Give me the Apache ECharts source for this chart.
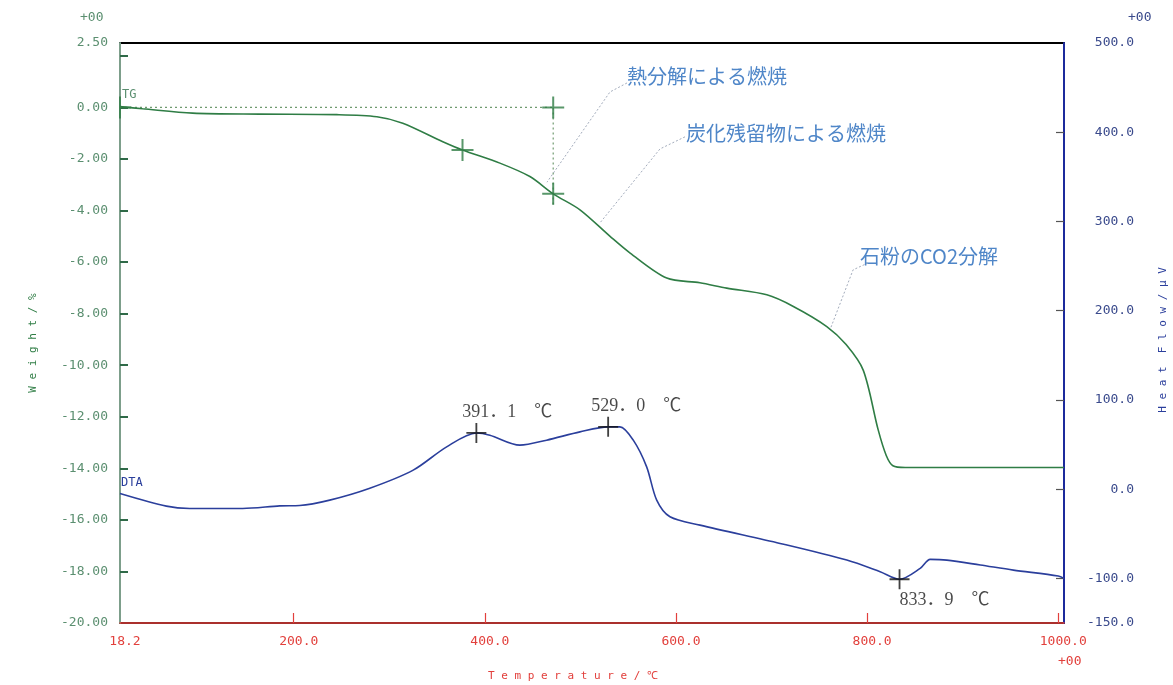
<!DOCTYPE html>
<html>
<head>
<meta charset="utf-8">
<script src="https://cdn.jsdelivr.net/npm/echarts@6/dist/echarts.min.js"></script>
<style>
  html, body { margin: 0; padding: 0; background: #fff; }
  #chart { width: 1173px; height: 685px; }
</style>
</head>
<body>
<div id="chart"></div>
<script>
// Temperature axis (°C)
const tempTicks = [200, 400, 600, 800, 1000];
const tempLabels = [18.2, 200, 400, 600, 800, 1000];

// Weight axis (%)
const weightLabels = [-20, -18, -16, -14, -12, -10, -8, -6, -4, -2, 0, 2.5];
const weightTicks = [-18, -16, -14, -12, -10, -8, -6, -4, -2, 0, 2];

// Heat flow axis (µV)
const heatLabels = [-150, -100, 0, 100, 200, 300, 400, 500];
const heatTicks = [-100, 0, 100, 200, 300, 400];

// TG curve
const tgTemp = [18.2, 41.8, 94.2, 164.4, 245.0, 287.0, 314.1, 356.0, 376.6, 415.7, 447.1, 471.5, 499.5, 531.0, 552.0, 590.3, 625.0, 653.1, 695.0, 722.8, 757.8, 778.0, 796.0, 811.5, 820.0, 827.0, 840.0, 1006.0];
const tgWeight = [0.03, -0.05, -0.22, -0.26, -0.28, -0.36, -0.61, -1.33, -1.65, -2.16, -2.68, -3.35, -3.97, -5.0, -5.65, -6.62, -6.8, -7.01, -7.27, -7.72, -8.5, -9.2, -10.2, -12.5, -13.5, -13.9, -13.97, -13.97];

// DTA curve
const dtaTemp = [18.2, 66.7, 91.1, 146.6, 185.3, 206.2, 237.7, 279.6, 325.0, 360.0, 391.1, 405.2, 436.6, 464.6, 499.5, 529.0, 541.3, 555.3, 569.3, 579.8, 593.7, 625.1, 708.9, 778.7, 813.6, 833.9, 855.5, 866.0, 883.4, 918.4, 953.0, 1000.0, 1006.0];
const dtaHeat = [-4.8, -19.0, -21.6, -21.6, -18.7, -18.3, -12.3, 1.0, 21.3, 47.4, 63.0, 60.5, 49.3, 54.9, 64.2, 69.8, 69.8, 54.9, 25.0, -12.3, -31.0, -40.3, -60.8, -79.5, -92.6, -101.0, -88.8, -78.7, -79.5, -85.0, -90.7, -97.4, -100.0];

// Step analysis points on TG
const tgStepTemp = [376.6, 471.5, 471.5];
const tgStepWeight = [-1.65, -3.35, 0.0];
const tgGuideH = [[18.2, 0.0], [471.5, 0.0]];
const tgGuideV = [[471.5, 0.0], [471.5, -3.8]];

// DTA peak points
const peakTemp = [391.1, 529.0, 833.9];
const peakHeat = [63.0, 69.8, -101.0];

// Annotations (leader polyline in temperature / weight units)
const noteTexts = ['熱分解による燃焼', '炭化残留物による燃焼', '石粉のCO2分解'];
const noteLeaders = [
  [[548.7, 0.95], [530.9, 0.6], [465.0, -2.9]],
  [[609.4, -1.14], [583.2, -1.61], [520.4, -4.48]],
  [[801.0, -6.03], [785.3, -6.3], [761.2, -8.62]]
];

const GREEN = '#2f7d45';
const GREEN_TXT = '#5b8f70';
const BLUE = '#2b3f9c';
const RED = '#e2403c';
const NOTE = '#4f86c8';
const MONO = '"DejaVu Sans Mono", "Liberation Mono", monospace';
const SERIF = '"Liberation Serif", "Noto Sans CJK JP", serif';

const zip = (a, b) => a.map((v, i) => [v, b[i]]);
const cross = 'path://M-1,-11H1V11H-1Z M-11,-1H11V1H-11Z';
const halfCross = 'path://M-1,-11H1V11H-1Z M-1,-1H11V1H-1Z';

const peakLabelPos = [[-4, -11], [-7, -11], [10, 31]];

const chart = echarts.init(document.getElementById('chart'), null, { renderer: 'canvas' });

const series = [
  {
    name: 'TG', type: 'line', xAxisIndex: 0, yAxisIndex: 0,
    data: zip(tgTemp, tgWeight), showSymbol: false, smooth: 0.3,
    lineStyle: { color: GREEN, width: 1.6 }, z: 5, silent: true
  },
  {
    name: 'DTA', type: 'line', xAxisIndex: 0, yAxisIndex: 1,
    data: zip(dtaTemp, dtaHeat), showSymbol: false, smooth: 0.3,
    lineStyle: { color: BLUE, width: 1.6 }, z: 5, silent: true
  },
  {
    type: 'line', yAxisIndex: 0, data: tgGuideH, showSymbol: false, silent: true,
    lineStyle: { color: '#6f9a6f', width: 1.2, type: [2, 3] }
  },
  {
    type: 'line', yAxisIndex: 0, data: tgGuideV, showSymbol: false, silent: true,
    lineStyle: { color: '#6f9a6f', width: 1.2, type: [2, 3] }
  },
  {
    type: 'scatter', yAxisIndex: 0, symbol: cross, symbolSize: 22, silent: true,
    data: zip(tgStepTemp, tgStepWeight), itemStyle: { color: GREEN }, z: 6
  },
  {
    type: 'scatter', yAxisIndex: 0, symbol: halfCross, symbolSize: [12, 22], symbolOffset: [5, 0], silent: true,
    data: [[tgTemp[0], 0]], itemStyle: { color: GREEN }, z: 6, clip: false
  },
  {
    type: 'scatter', yAxisIndex: 1, symbol: cross, symbolSize: 20, silent: true, z: 7,
    itemStyle: { color: '#111' },
    data: peakTemp.map((t, i) => ({
      value: [t, peakHeat[i]],
      label: {
        show: true, position: peakLabelPos[i], align: 'left', verticalAlign: 'middle',
        formatter: (p) => p.value[0].toFixed(1).replace('.', '．') + '　℃',
        fontFamily: SERIF, fontSize: 18, color: '#1a1a1a'
      }
    }))
  }
];

noteLeaders.forEach((pts) => {
  series.push({
    type: 'line', yAxisIndex: 0, data: pts, showSymbol: false, silent: true,
    lineStyle: { color: '#a3acbc', width: 1, type: [2, 2] }, z: 3
  });
});

const notePos = [[627, 77], [686, 134], [860, 257]];

chart.setOption({
  animation: false,
  backgroundColor: '#fff',
  grid: { left: 120, right: 109, top: 43, bottom: 62, show: true, borderColor: '#000', borderWidth: 2, backgroundColor: 'transparent' },
  xAxis: {
    type: 'value', min: 18.2, max: 1006,
    axisLine: { onZero: false, lineStyle: { color: RED, width: 1.5 } },
    axisTick: { inside: true, length: 10, customValues: tempTicks, lineStyle: { color: RED, width: 1.2 } },
    axisLabel: {
      customValues: tempLabels, formatter: (v) => v.toFixed(1), color: RED,
      fontFamily: MONO, fontSize: 13, margin: 12, padding: [0, 0, 0, 10]
    },
    splitLine: { show: false }
  },
  yAxis: [
    {
      type: 'value', min: -20, max: 2.5, position: 'left',
      axisLine: { show: true, onZero: false, lineStyle: { color: '#7d9e8b', width: 2 } },
      axisTick: { show: true, inside: true, length: 8, customValues: weightTicks, lineStyle: { color: '#2f6a48', width: 2 } },
      axisLabel: {
        customValues: weightLabels, formatter: (v) => v.toFixed(2), color: GREEN_TXT,
        fontFamily: MONO, fontSize: 13, margin: 12
      },
      splitLine: { show: false }
    },
    {
      type: 'value', min: -150, max: 500, position: 'right',
      axisLine: { show: true, onZero: false, lineStyle: { color: '#1c2a9c', width: 2 } },
      axisTick: { show: true, inside: true, length: 8, customValues: heatTicks, lineStyle: { color: '#555', width: 1.2 } },
      axisLabel: {
        customValues: heatLabels, formatter: (v) => v.toFixed(1), color: '#3a4a8c',
        fontFamily: MONO, fontSize: 13, margin: 70, align: 'right'
      },
      splitLine: { show: false }
    }
  ],
  series: series,
  graphic: [
    ...noteTexts.map((t, i) => ({
      type: 'text', left: notePos[i][0], top: notePos[i][1] - 11, silent: true,
      style: { text: t, fill: NOTE, font: '20px "Noto Sans CJK JP"' }
    })),
    { type: 'text', x: 122, y: 89, silent: true, style: { text: 'TG', fill: GREEN_TXT, font: '12px ' + MONO } },
    { type: 'text', x: 121, y: 477, silent: true, style: { text: 'DTA', fill: BLUE, font: '12px ' + MONO } },
    { type: 'text', x: 80, y: 11, silent: true, style: { text: '+00', fill: GREEN_TXT, font: '13px ' + MONO } },
    { type: 'text', x: 1128, y: 11, silent: true, style: { text: '+00', fill: '#3a4a8c', font: '13px ' + MONO } },
    { type: 'text', x: 1058, y: 655, silent: true, style: { text: '+00', fill: RED, font: '13px ' + MONO } },
    {
      type: 'text', x: 33, y: 343, rotation: Math.PI / 2, silent: true,
      style: { text: 'W e i g h t / %', fill: GREEN, font: '11px ' + MONO, align: 'center', verticalAlign: 'middle' }
    },
    {
      type: 'text', x: 1163, y: 340, rotation: Math.PI / 2, silent: true,
      style: { text: 'H e a t  F l o w / μ V', fill: BLUE, font: '11px ' + MONO, align: 'center', verticalAlign: 'middle' }
    },
    {
      type: 'text', x: 573, y: 676, silent: true,
      style: { text: 'T e m p e r a t u r e / ℃', fill: RED, font: '11px ' + MONO, align: 'center', verticalAlign: 'middle' }
    }
  ]
});
</script>
</body>
</html>
